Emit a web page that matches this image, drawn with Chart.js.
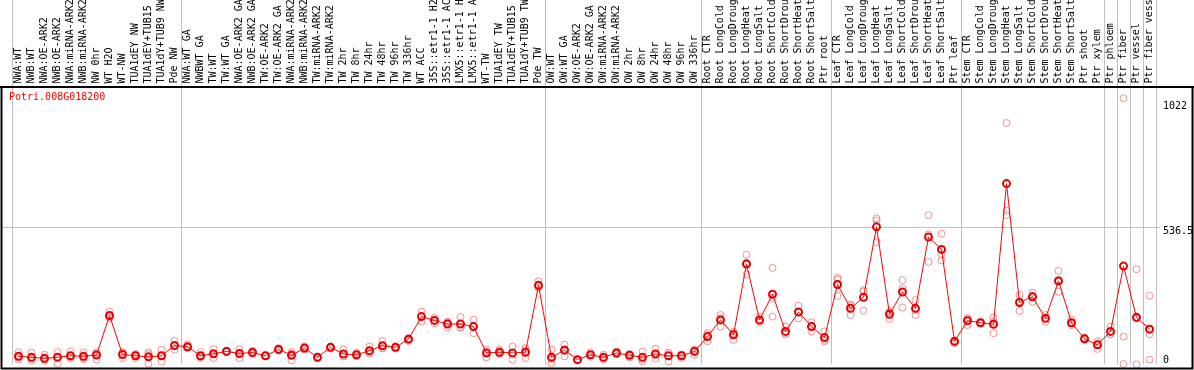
<!DOCTYPE html>
<html><head><meta charset="utf-8">
<script src="https://cdn.jsdelivr.net/npm/chart.js@4.4.1/dist/chart.umd.min.js"></script>
<style>html,body{margin:0;padding:0;background:#fff;overflow:hidden}canvas{display:block}</style>
</head><body>
<canvas id="c" width="1194" height="370"></canvas>
<script>
const categories = [
 'NWA:WT','NWB:WT','NWA:OE-ARK2','NWB:OE-ARK2','NWA:miRNA-ARK2','NWB:miRNA-ARK2','NW 0hr','WT H2O','WT-NW','TUA1dEY NW','TUA1dEY+TUB15 NW','TUA1dY+TUB9 NW','Pde NW',
 'NWA:WT GA','NWBWT GA','TW:WT','TW:WT GA','NWA:OE-ARK2 GA','NWB:OE-ARK2 GA','TW:OE-ARK2','TW:OE-ARK2 GA','NWA:miRNA-ARK2','NWB:miRNA-ARK2','TW:miRNA-ARK2','TW:miRNA-ARK2','TW 2hr','TW 8hr','TW 24hr','TW 48hr','TW 96hr','TW 336hr','WT ACC','35S::etr1-1 H2O','35S::etr1-1 ACC','LMX5::etr1-1 H2O','LMX5::etr1-1 ACC','WT-TW','TUA1dEY TW','TUA1dEY+TUB15 TW','TUA1dY+TUB9 TW','Pde TW',
 'OW:WT','OW:WT GA','OW:OE-ARK2','OW:OE-ARK2 GA','OW:miRNA-ARK2','OW:miRNA-ARK2','OW 2hr','OW 8hr','OW 24hr','OW 48hr','OW 96hr','OW 336hr',
 'Root CTR','Root LongCold','Root LongDrought','Root LongHeat','Root LongSalt','Root ShortCold','Root ShortDrought','Root ShortHeat','Root ShortSalt','Ptr root',
 'Leaf CTR','Leaf LongCold','Leaf LongDrought','Leaf LongHeat','Leaf LongSalt','Leaf ShortCold','Leaf ShortDrought','Leaf ShortHeat','Leaf ShortSalt','Ptr leaf',
 'Stem CTR','Stem LongCold','Stem LongDrought','Stem LongHeat','Stem LongSalt','Stem ShortCold','Stem ShortDrought','Stem ShortHeat','Stem ShortSalt','Ptr shoot','Ptr xylem',
 'Ptr phloem','Ptr fiber','Ptr vessel','Ptr fiber vessel'
];
const meanValues = [32,28,24,28,34,32,37,191,39,34,30,34,74,
 69,34,42,51,43,47,34,59,36,64,28,67,41,38,54,73,67,99,187,172,158,158,148,45,48,45,48,309,
 28,56,19,38,28,45,36,28,41,34,34,51,
 109,174,116,392,174,274,129,205,148,105,
 312,219,262,537,196,283,219,497,449,90,
 171,163,157,706,242,264,180,326,163,100,77,129,384,184,138];
const rep1 = [48,46,38,48,51,47,47,206,48,38,47,57,92,
 78,48,60,54,60,54,36,64,48,70,24,70,59,45,70,92,70,103,206,183,167,185,174,48,58,70,64,325,
 58,77,16,48,38,51,41,51,61,45,38,58,
 122,193,122,428,187,377,148,229,165,129,
 338,234,290,570,206,329,251,583,510,92,
 178,160,183,942,271,280,180,365,175,105,90,148,1039,372,268];
const rep2 = [19,15,15,30,25,21,19,183,25,25,40,35,58,
 64,25,25,48,25,41,33,54,16,58,30,62,32,32,48,64,62,92,167,161,144,144,122,28,41,19,25,299,
 6,32,20,36,25,41,28,12,23,12,25,38,
 90,148,96,351,170,187,118,180,129,96,
 267,193,210,477,178,296,193,400,406,83,
 154,165,122,600,209,245,167,284,154,96,61,118,109,0,118];
const rep3 = [28,23,19,3,27,27,45,183,45,40,3,11,73,
 65,29,41,51,45,47,34,59,42,64,29,68,32,38,42,63,68,101,187,174,163,145,148,58,47,45,56,304,
 20,60,20,30,20,42,38,20,38,46,39,57,
 115,180,128,397,165,260,120,205,150,91,
 331,229,285,562,203,222,212,507,430,94,
 181,165,166,583,247,268,193,330,161,99,79,119,2,180,19];
const separatorIndices = [0,13,41,53,63,73,84,85,86,87,88];
const yTickValues = [0, 536.5, 1022];
const yMax = 1073;
const geneId = 'Potri.008G018200';

const FONT = 'DejaVu Sans Mono';
const GRAY = '#c0c0c0';
const REP = '#ee9090';
const NONE = 'rgba(0,0,0,0)';
const sepSet = new Set(separatorIndices);
const isSep = c => (c.type !== 'tick') || sepSet.has(c.index);

const framePlugin = {
  id: 'frame',
  beforeDatasetsDraw(chart) {
    const ctx = chart.ctx, y = chart.scales.y.getPixelForValue(yTickValues[1]);
    ctx.save();
    ctx.strokeStyle = GRAY; ctx.lineWidth = 1;
    ctx.beginPath();
    ctx.moveTo(2, Math.round(y) + 0.5); ctx.lineTo(chart.chartArea.left, Math.round(y) + 0.5);
    ctx.stroke();
    ctx.restore();
  },
  afterDraw(chart) {
    const ctx = chart.ctx;
    ctx.save();
    ctx.strokeStyle = '#000'; ctx.lineWidth = 2;
    ctx.beginPath();
    ctx.moveTo(0, 87); ctx.lineTo(1194, 87);
    ctx.moveTo(1.5, 87); ctx.lineTo(1.5, 369.5);
    ctx.moveTo(0.5, 368.5); ctx.lineTo(1193.5, 368.5);
    ctx.moveTo(1192.5, 87); ctx.lineTo(1192.5, 369.5);
    ctx.stroke();
    ctx.fillStyle = '#ff0000';
    ctx.font = '10px "' + FONT + '"';
    ctx.textBaseline = 'alphabetic';
    ctx.textAlign = 'left';
    ctx.fillText(geneId, 9, 100);
    ctx.restore();
  }
};

const repDataset = d => ({
  data: d, showLine: false, pointRadius: 3.5, pointHoverRadius: 3.5,
  pointBorderColor: REP, pointBorderWidth: 1, pointBackgroundColor: NONE,
  borderColor: REP, backgroundColor: NONE, clip: 4
});

new Chart(document.getElementById('c'), {
  type: 'line',
  data: {
    labels: categories,
    datasets: [
      { data: meanValues, borderColor: '#ff0000', borderWidth: 1, pointRadius: 3.5, pointHoverRadius: 3.5,
        pointBorderColor: '#e80000', pointBorderWidth: 2, pointBackgroundColor: NONE, backgroundColor: NONE,
        tension: 0, clip: 4 },
      repDataset(rep1), repDataset(rep2), repDataset(rep3)
    ]
  },
  options: {
    responsive: false, animation: false, devicePixelRatio: 1, events: [],
    layout: { padding: { left: 12, right: 0, top: 0, bottom: 3.5 } },
    plugins: { legend: { display: false }, tooltip: { enabled: false }, title: { display: false } },
    scales: {
      x: {
        type: 'category', position: 'top', offset: true,
        grid: { offset: true, drawOnChartArea: true, drawTicks: true, tickLength: 90, lineWidth: 1,
          color: c => isSep(c) ? GRAY : NONE, tickColor: c => isSep(c) ? GRAY : NONE },
        border: { display: false },
        ticks: { autoSkip: false, minRotation: 90, maxRotation: 90, padding: -84, labelOffset: 12, color: '#000',
          font: { family: FONT, size: 10 } },
        afterFit: s => { s.height = 89.5; s.paddingLeft = 0; s.paddingRight = 0; }
      },
      y: {
        position: 'right', min: 0, max: yMax,
        afterBuildTicks: s => { s.ticks = yTickValues.map(v => ({ value: v })); },
        grid: { drawTicks: true, tickLength: 4, lineWidth: 1,
          color: c => (c.tick && c.tick.value === yTickValues[1]) ? GRAY : NONE,
          tickColor: c => (c.tick && c.tick.value === yTickValues[1]) ? GRAY : NONE },
        border: { display: false },
        ticks: { padding: 3, color: '#000', font: { family: FONT, size: 10, lineHeight: 0.8 },
          callback: v => v === 0 ? [String(v), ''] : ['', String(v)] },
        afterFit: s => { s.width = 38; s.paddingTop = 0; s.paddingBottom = 0; }
      }
    }
  },
  plugins: [framePlugin]
});
</script>
</body></html>
